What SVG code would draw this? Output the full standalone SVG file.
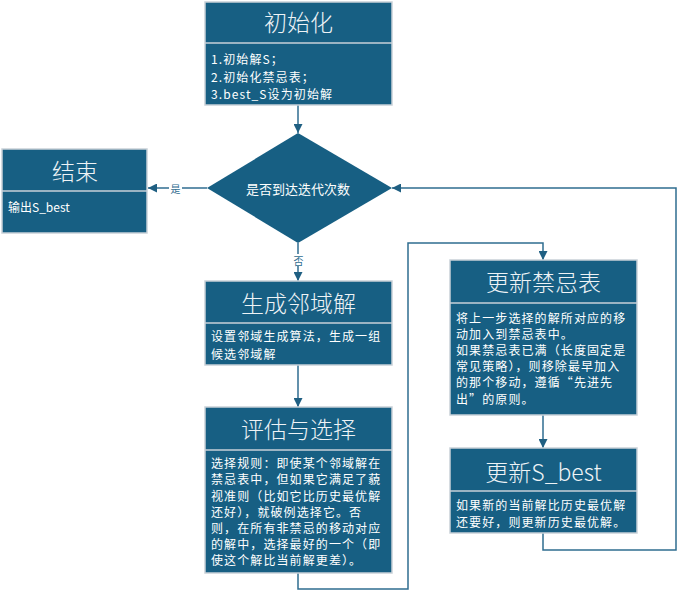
<svg xmlns="http://www.w3.org/2000/svg" width="687" height="601" viewBox="0 0 687 601">
<defs>
<style>
.box{fill:#175f83;stroke:#c9d1d8;stroke-width:1.5}
.div{stroke:#c9d1d8;stroke-width:1.5}
.title{fill:#eef3f6;font-family:"Noto Sans CJK SC","Liberation Sans",sans-serif;font-size:23px;text-anchor:middle;dominant-baseline:central;font-weight:300}
.body{fill:#ffffff;font-family:"Noto Sans CJK SC","Liberation Sans",sans-serif;font-size:12px;letter-spacing:1.1px;dominant-baseline:central}
.dia{fill:#ffffff;font-family:"Noto Sans CJK SC","Liberation Sans",sans-serif;font-size:13px;text-anchor:middle;dominant-baseline:central}
.lbl{fill:#2f6d90;font-family:"Noto Sans CJK SC","Liberation Sans",sans-serif;font-size:10px;text-anchor:middle;dominant-baseline:central}
.conn{fill:none;stroke:#2f6d90;stroke-width:1.5}
</style>
<marker id="arr" viewBox="0 0 10 10" refX="10" refY="5" markerWidth="6" markerHeight="6" markerUnits="strokeWidth" orient="auto">
<path d="M0,0 L10,5 L0,10 z" fill="#1f5f82"/>
</marker>
</defs>
<rect width="687" height="601" fill="#ffffff"/>
<g id="connectors">
<path class="conn" d="M298,105 L298,133" marker-end="url(#arr)"/>
<path class="conn" d="M207,188 L148,188" marker-end="url(#arr)"/>
<rect x="169" y="182" width="13" height="12" fill="#ffffff"/>
<text class="lbl" x="175.5" y="188">是</text>
<path class="conn" d="M298,243 L298,281" marker-end="url(#arr)"/>
<rect x="292" y="254" width="13" height="12" fill="#ffffff"/>
<text class="lbl" x="298.5" y="260">否</text>
<path class="conn" d="M298,365 L298,407" marker-end="url(#arr)"/>
<path class="conn" d="M298,573 L298,589 L408,589 L408,243 L543,243 L543,260" marker-end="url(#arr)"/>
<path class="conn" d="M543,415 L543,448" marker-end="url(#arr)"/>
<path class="conn" d="M543,533 L543,550 L676,550 L676,188 L392,188" marker-end="url(#arr)"/>
</g>
<g id="init">
<rect class="box" x="205" y="2" width="187" height="103"/>
<line class="div" x1="205" y1="43" x2="392" y2="43"/>
<text class="title" x="298.5" y="21">初始化</text>
<text class="body" x="211" y="58">1.初始解S；</text>
<text class="body" x="211" y="76">2.初始化禁忌表；</text>
<text class="body" x="211" y="93">3.best_S设为初始解</text>
</g>
<g id="decision">
<polygon points="298,133 392,188 298,243 207,188" fill="#175f83"/>
<text class="dia" x="298" y="188">是否到达迭代次数</text>
</g>
<g id="end">
<rect class="box" x="2" y="149" width="145" height="84"/>
<line class="div" x1="2" y1="191" x2="147" y2="191"/>
<text class="title" x="75" y="170">结束</text>
<text class="body" x="8" y="206" style="letter-spacing:0">输出S_best</text>
</g>
<g id="generate">
<rect class="box" x="205" y="281" width="187" height="84"/>
<line class="div" x1="205" y1="323" x2="392" y2="323"/>
<text class="title" x="298.5" y="302">生成邻域解</text>
<text class="body" x="211" y="335">设置邻域生成算法，生成一组</text>
<text class="body" x="211" y="353">候选邻域解</text>
</g>
<g id="evaluate">
<rect class="box" x="205" y="407" width="187" height="166"/>
<line class="div" x1="205" y1="450" x2="392" y2="450"/>
<text class="title" x="298.5" y="428">评估与选择</text>
<text class="body" x="211" y="462">选择规则：即使某个邻域解在</text>
<text class="body" x="211" y="478">禁忌表中，但如果它满足了藐</text>
<text class="body" x="211" y="495">视准则（比如它比历史最优解</text>
<text class="body" x="211" y="511">还好），就破例选择它。否</text>
<text class="body" x="211" y="527">则，在所有非禁忌的移动对应</text>
<text class="body" x="211" y="543">的解中，选择最好的一个（即</text>
<text class="body" x="211" y="559">使这个解比当前解更差）。</text>
</g>
<g id="update-tabu">
<rect class="box" x="450" y="260" width="187" height="155"/>
<line class="div" x1="450" y1="303" x2="637" y2="303"/>
<text class="title" x="543.5" y="281">更新禁忌表</text>
<text class="body" x="456" y="317">将上一步选择的解所对应的移</text>
<text class="body" x="456" y="333">动加入到禁忌表中。</text>
<text class="body" x="456" y="349">如果禁忌表已满（长度固定是</text>
<text class="body" x="456" y="365">常见策略），则移除最早加入</text>
<text class="body" x="456" y="381">的那个移动，遵循“先进先</text>
<text class="body" x="456" y="398">出”的原则。</text>
</g>
<g id="update-best">
<rect class="box" x="450" y="448" width="187" height="85"/>
<line class="div" x1="450" y1="491" x2="637" y2="491"/>
<text class="title" x="543.5" y="471">更新S_best</text>
<text class="body" x="456" y="504">如果新的当前解比历史最优解</text>
<text class="body" x="456" y="521">还要好，则更新历史最优解。</text>
</g>
</svg>
